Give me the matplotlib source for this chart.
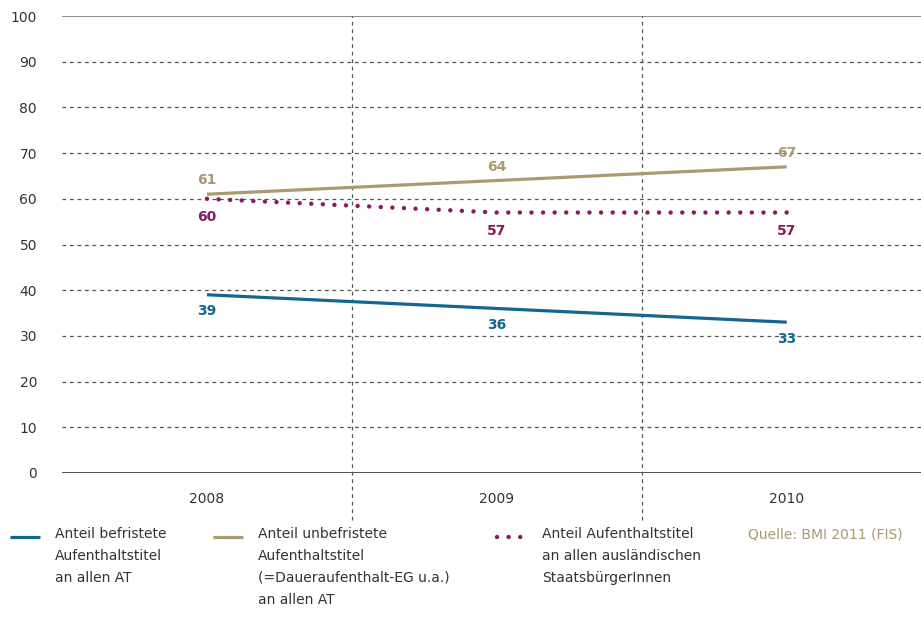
import matplotlib.pyplot as plt

plt.rcParams['font.family'] = ['DejaVu Sans']

years = ['2008', '2009', '2010']
befristet = [39, 36, 33]
unbefristet = [61, 64, 67]
anteil_at = [60, 57, 57]

blue = '#13668f'
tan = '#a99a72'
purple = '#8a1a64'
text_grey = '#333333'

fig = plt.figure(figsize=(9.21, 6.36), dpi=100)
ax = fig.add_axes([62 / 921, 1 - 473 / 636, (921 - 62) / 921, 457 / 636])

x = range(len(years))
ax.plot(x, befristet, color=blue, lw=2.3, solid_capstyle='butt')
ax.plot(x, unbefristet, color=tan, lw=2.3, solid_capstyle='butt')
ax.plot(x, anteil_at, color=purple, lw=3.2, linestyle=(0, (0.01, 2.6)),
        dash_capstyle='round')

# value labels
for i in x:
    ax.annotate(str(unbefristet[i]), (i, unbefristet[i]), xytext=(0, 5),
                textcoords='offset points', ha='center', va='bottom',
                color=tan, fontsize=10, fontweight='bold')
    ax.annotate(str(anteil_at[i]), (i, anteil_at[i]), xytext=(0, -8),
                textcoords='offset points', ha='center', va='top',
                color=purple, fontsize=10, fontweight='bold')
    ax.annotate(str(befristet[i]), (i, befristet[i]), xytext=(0, -7),
                textcoords='offset points', ha='center', va='top',
                color=blue, fontsize=10, fontweight='bold')

ax.set_xlim(-0.5, 2.463)
ax.set_ylim(0, 100)
ax.set_yticks(range(0, 101, 10))
ax.set_xticks(list(x))
ax.set_xticklabels(years)
ax.tick_params(length=0, labelsize=10, colors=text_grey)
ax.tick_params(axis='y', pad=18)
ax.tick_params(axis='x', pad=14)
for lbl in ax.get_yticklabels():
    lbl.set_horizontalalignment('right')

for y in range(10, 100, 10):
    ax.axhline(y, color='#555555', lw=0.9, linestyle=(0, (3, 3)), zorder=0)
ax.axhline(100, color='#8a8a8a', lw=1.4, zorder=0)
ax.axhline(0, color='#222222', lw=1.1, zorder=0)
for xv in [0.5, 1.5]:
    ax.axvline(xv, ymin=-0.103, ymax=1, color='#555555', lw=0.9,
               linestyle=(0, (3, 3)), zorder=0, clip_on=False)

for s in ax.spines.values():
    s.set_visible(False)

# legend drawn by hand below the plot
legend_items = [
    (10 / 921, blue, '-', 2.3, 'Anteil befristete\nAufenthaltstitel\nan allen AT'),
    (213 / 921, tan, '-', 2.3,
     'Anteil unbefristete\nAufenthaltstitel\n(=Daueraufenthalt-EG u.a.)\nan allen AT'),
    (497 / 921, purple, (0, (0.01, 2.6)), 3.2,
     'Anteil Aufenthaltstitel\nan allen ausländischen\nStaatsbürgerInnen'),
]
y_leg = 1 - 537 / 636
for x0, col, ls, lw, label in legend_items:
    fig.add_artist(plt.Line2D([x0, x0 + 30 / 921], [y_leg, y_leg], color=col,
                              lw=lw, linestyle=ls, dash_capstyle='round',
                              solid_capstyle='butt'))
    fig.text(x0 + 45 / 921, y_leg + 10 / 636, label, ha='left', va='top',
             fontsize=10, color=text_grey, linespacing=1.72)

fig.text(748 / 921, y_leg + 10 / 636, 'Quelle: BMI 2011 (FIS)', ha='left',
         va='top', fontsize=10, color=tan)

fig.savefig('out.png', dpi=100)
